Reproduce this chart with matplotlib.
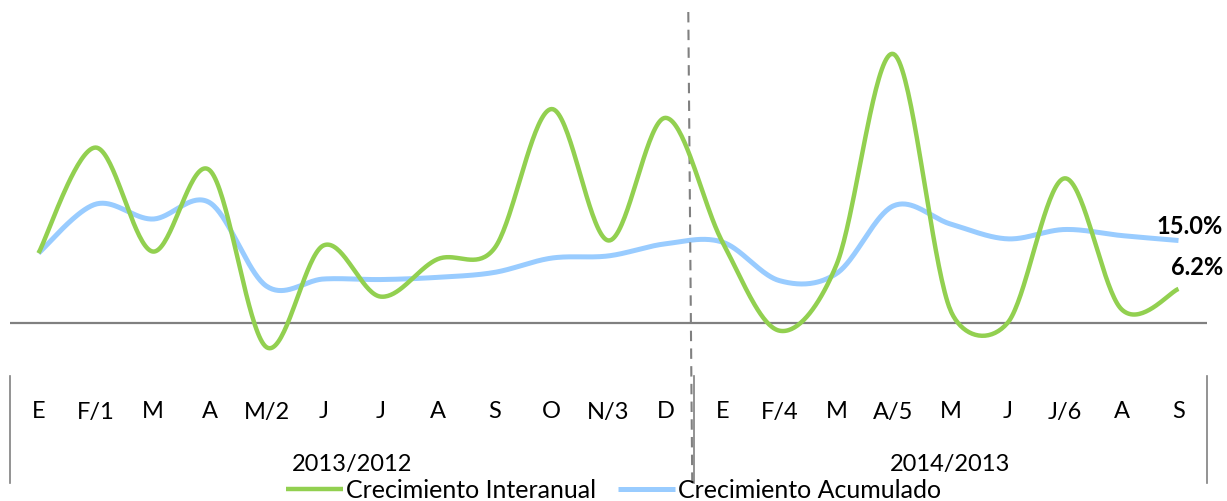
import numpy as np
import matplotlib
matplotlib.use("Agg")
import matplotlib.pyplot as plt
from matplotlib.transforms import blended_transform_factory

plt.rcParams['font.family'] = ['Lato', 'DejaVu Sans']

# months of the two periods
months = ["E", "F/1", "M", "A", "M/2", "J", "J", "A", "S", "O", "N/3", "D",
          "E", "F/4", "M", "A/5", "M", "J", "J/6", "A", "S"]
periods = ["2013/2012", "2014/2013"]
period_len = [12, 9]

# growth rates (%)
interanual = [12.7, 31.9, 13.0, 27.8, -4.4, 14.1, 4.8, 11.6, 13.6, 38.9, 15.0, 37.3,
              14.7, -1.4, 10.6, 48.9, 2.3, 0.0, 26.3, 2.5, 6.2]
acumulado = [12.7, 21.6, 18.9, 21.9, 6.7, 8.0, 7.9, 8.3, 9.2, 11.8, 12.2, 14.4,
             14.7, 7.7, 9.0, 21.3, 18.0, 15.3, 17.0, 15.9, 15.0]

GREEN = "#92D050"
BLUE = "#99CCFF"
GRAY = "#808080"

PX_X = 57.0   # px per category
PX_Y = 5.5    # px per percent


def smooth(y, n=40):
    # Excel-like smoothed line: cubic Bezier through the points,
    # control arms limited to half the segment length (in screen space)
    y = np.asarray(y, dtype=float)
    x = np.arange(len(y), dtype=float)
    P = np.column_stack([x * PX_X, y * PX_Y])
    P = np.vstack([P[:1], P, P[-1:]])
    t = np.linspace(0, 1, n)[:, None]
    out = []
    for i in range(len(y) - 1):
        p0, p1, p2, p3 = P[i], P[i + 1], P[i + 2], P[i + 3]
        d12 = np.hypot(*(p2 - p1))
        d02 = np.hypot(*(p2 - p0))
        d13 = np.hypot(*(p3 - p1))
        f0 = 1 / 6 if d02 / 6 < d12 / 2 else (d12 / 2) / d02
        f1 = 1 / 6 if d13 / 6 < d12 / 2 else (d12 / 2) / d13
        c1 = p1 + (p2 - p0) * f0
        c2 = p2 - (p3 - p1) * f1
        b = ((1 - t) ** 3) * p1 + 3 * ((1 - t) ** 2) * t * c1 + 3 * (1 - t) * t ** 2 * c2 + t ** 3 * p2
        out.append(b)
    b = np.vstack(out)
    return b[:, 0] / PX_X, b[:, 1] / PX_Y


fig = plt.figure(figsize=(12.27, 5.02), dpi=100)
W, H = 1227, 502
ax = fig.add_axes([10 / W, (H - 370) / H, 1197 / W, 370 / H])

ax.set_xlim(-0.5, len(months) - 0.5)
ax.set_ylim(-46 / PX_Y, 324 / PX_Y)
for s in ax.spines.values():
    s.set_visible(False)
ax.set_xticks([])
ax.set_yticks([])

ax.axhline(0, color=GRAY, lw=1.6, zorder=1)

gx, gy = smooth(interanual)
bx, by = smooth(acumulado)
l1, = ax.plot(gx, gy, color=GREEN, lw=3.2, solid_capstyle='butt', zorder=3,
              label="Crecimiento Interanual")
l2, = ax.plot(bx, by, color=BLUE, lw=3.6, solid_capstyle='butt', zorder=2,
              label="Crecimiento Acumulado")

# end labels
last = len(months) - 1
ax.annotate(f"{acumulado[-1]:.1f}%", (last, acumulado[-1]), xytext=(32, 11),
            textcoords='offset points', ha='right', va='center',
            fontsize=17, fontweight='bold')
ax.annotate(f"{interanual[-1]:.1f}%", (last, interanual[-1]), xytext=(32, 16),
            textcoords='offset points', ha='right', va='center',
            fontsize=17, fontweight='bold')

# category axis (two levels)
trans = blended_transform_factory(ax.transData, ax.transAxes)
for i, m in enumerate(months):
    ax.text(i, -42 / 370, m, transform=trans, ha='center', va='center', fontsize=17)

start = 0
for p, n in zip(periods, period_len):
    ax.text(start + (n - 1) / 2, -94 / 370, p, transform=trans,
            ha='center', va='center', fontsize=17)
    start += n

for xb in [-0.5, 11.5, len(months) - 0.5]:
    ax.plot([xb, xb], [-7 / 370, -114 / 370], transform=trans, color=GRAY,
            lw=1.2, clip_on=False)

# dashed divider between the two periods
ax.plot([11.4, 11.47], [357 / 370, -120 / 370], transform=trans, color=GRAY,
        lw=1.5, ls=(0, (5, 3.5)), clip_on=False)

fig.legend(handles=[l1, l2], loc='center', bbox_to_anchor=(0.5, 1 - 491 / H),
           ncol=2, frameon=False, fontsize=18, handlelength=2.3,
           handletextpad=0.12, columnspacing=0.85, borderpad=0)

fig.savefig("out.png", dpi=100)
